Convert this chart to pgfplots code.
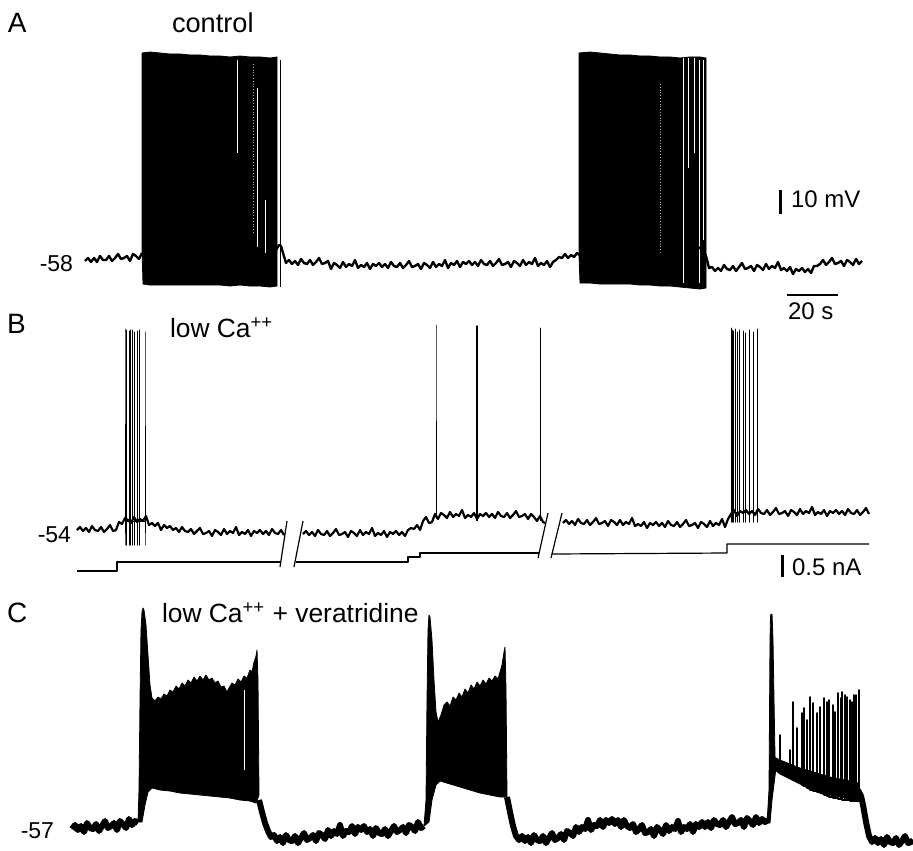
\documentclass[border=0pt]{standalone}
\usepackage{pgfplots}
\pgfplotsset{compat=1.18}
\usepackage{fontspec}
\setmainfont{Liberation Sans}

% coordinates are in picture units: x to the right, y downwards (0..913 x 0..850)
\newcommand{\lab}[1]{\fontsize{14}{16}\selectfont #1}
\newcommand{\ttl}[1]{\fontsize{13.2}{16}\selectfont #1}
\newcommand{\vlt}[1]{\fontsize{11.5}{13}\selectfont #1}
\newcommand{\scl}[1]{\fontsize{12}{14}\selectfont #1}
\tikzset{txt/.style={inner sep=0pt, outer sep=0pt}}

\begin{document}
\begin{tikzpicture}
\begin{axis}[
    scale only axis, width=456.5pt, height=425pt,
    xmin=0, xmax=913, ymin=0, ymax=850, y dir=reverse,
    hide axis,
    every axis plot/.append style={line join=round},
]
%% ---------------- A: control ----------------
\addplot[black, line width=1.2pt] coordinates {
(85,261)(88,258)(91,262)(94,258)(97,262)(100,256)(103,260)(106,260)(109,256)(112,261)(115,258)(118,254)(121,259)(124,258)(127,256)(130,261)(133,254)(136,256)(139,259)(142,253)
};
\addplot[black, fill=black, line width=0.4pt] coordinates {
(142,250)(142,53)(150,52)(160,53)(170,54)(180,54)(190,55)(200,55)(210,56)(220,56)(230,57)(240,56)(250,57)(260,57)(270,58)(277,57)(277,286)(270,287)(260,286)(250,286)(240,285)(230,286)(220,285)(210,285)(200,285)(190,285)(180,285)(170,285)(160,285)(150,285)(143,284)
} -- cycle;
\addplot[white, line width=0.5pt] coordinates {(237,60)(237,153)};
\addplot[white!70!black, line width=0.4pt, densely dotted] coordinates {(253,64)(253,233)};
\addplot[white, line width=0.5pt] coordinates {(257,88)(257,247)};
\addplot[white, line width=0.5pt] coordinates {(265,200)(265,253)};
\addplot[black, line width=0.5pt] coordinates {(280,60)(280,287)};
\addplot[black, line width=1.2pt] coordinates {
(276,250)(279,245)(281,246)(283,253)
(286,263)(289,260)(292,264)(295,261)(298,265)(301,259)(304,263)(307,264)(310,260)(313,265)(316,262)(319,258)(322,264)(325,263)(328,261)
(331,269)(334,263)(337,265)(340,268)(343,262)(346,267)(349,264)(352,266)(355,260)(358,268)(361,265)(364,267)(367,263)(370,269)(373,264)
(376,266)(379,263)(382,267)(385,264)(388,268)(391,262)(394,266)(397,267)(400,263)(403,268)(406,265)(409,261)(412,267)(415,266)(418,264)
(421,269)(424,263)(427,265)(430,268)(433,262)(436,267)(439,264)(442,266)(445,260)(448,268)(451,263)(454,265)(457,261)(460,267)(463,262)
(466,264)(469,261)(472,265)(475,262)(478,266)(481,260)(484,264)(487,265)(490,261)(493,266)(496,263)(499,259)(502,265)(505,264)(508,262)
(511,267)(514,261)(517,263)(520,266)(523,260)(526,265)(529,262)(532,264)(535,258)(538,266)(541,263)(544,265)(547,261)(550,267)(553,262)
(556,260)(559,257)(562,258)(565,254)(568,258)(571,255)(574,257)(577,253)(579,255)
};
\addplot[black, fill=black, line width=0.4pt] coordinates {
(579,255)(579,53)(590,52)(600,53)(610,54)(620,55)(630,55)(640,56)(650,56)(660,57)(670,57)(680,58)(690,57)(700,57)(706,58)(706,288)(700,289)(690,288)(680,287)(670,286)(660,286)(650,285)(640,285)(630,284)(620,284)(610,284)(600,284)(590,283)(580,283)
} -- cycle;
\addplot[white!70!black, line width=0.4pt, densely dotted] coordinates {(660,84)(660,253)};
\addplot[white, line width=0.5pt] coordinates {(683,58)(683,283)};
\addplot[white, line width=0.5pt] coordinates {(688,58)(688,168)};
\addplot[white, line width=0.5pt] coordinates {(694,58)(694,153)};
\addplot[white, line width=0.5pt] coordinates {(699,60)(699,283)};
\addplot[white, line width=0.5pt] coordinates {(703,60)(703,240)};
\addplot[black, line width=1.2pt] coordinates {
(690,250)(697,247)(703,249)(706,256)
(709,268)(712,267)(715,271)(718,268)(721,271)(724,265)(727,269)(730,270)(733,266)(736,271)(739,267)(742,263)(745,269)(748,268)(751,266)
(754,271)(757,265)(760,267)(763,270)(766,264)(769,269)(772,266)(775,268)(778,262)(781,270)(784,268)(787,271)(790,267)(793,274)(796,269)
(799,271)(802,268)(805,272)(808,269)(811,273)(814,266)(817,266)(820,264)(823,260)(826,265)(829,262)(832,258)(835,264)(838,263)(841,261)
(844,266)(847,260)(850,262)(853,265)(856,259)(859,264)(862,261)
};
% scale bars
\addplot[black, line width=1.5pt] coordinates {(780,190)(780,214)};
\addplot[black, line width=1.3pt] coordinates {(787,295)(838,295)};

%% ---------------- B: low Ca ----------------
\addplot[black, line width=1.1pt] coordinates {
(77,530)(80,527)(83,531)(86,528)(89,532)(92,526)(95,530)(98,531)(101,527)(104,532)(107,529)(110,525)(113,531)(116,530)
(119,522)(122,524)(125,518)(128,520)(131,523)(134,517)(137,522)(140,519)(143,521)(146,516)(149,525)(152,523)(155,526)(158,523)(161,530)
(164,525)(167,528)(170,526)(173,530)(176,528)(179,532)(182,527)(185,531)(188,532)(191,529)(194,534)(197,531)(200,528)(203,534)(206,533)
(209,531)(212,536)(215,530)(218,532)(221,535)(224,529)(227,534)(230,531)(233,533)(236,527)(239,535)(242,532)(245,534)(248,530)(251,536)
(254,531)(257,533)(260,530)(263,534)(266,531)(269,535)(272,529)(275,533)(278,534)(281,530)(284,535)
};
\addplot[black, line width=0.5pt] coordinates {
(125,521)(125,329)(125,545)(125,521)
(126.7,521)(126.7,330)(126.7,545)(126.7,521)
(129.3,521)(129.3,331)(129.3,545)(129.3,521)
(130.7,521)(130.7,330)(130.7,545)(130.7,521)
(132.7,521)(132.7,330)(132.7,545)(132.7,521)
(134.7,521)(134.7,332)(134.7,545)(134.7,521)
(137.3,521)(137.3,331)(137.3,545)(137.3,521)
(139.3,521)(139.3,330)(139.3,545)(139.3,521)
(145,521)(145,332)(145,545)(145,521)
};
\addplot[black, line width=1.1pt] coordinates {
(303,534)(306,531)(309,535)(312,532)(315,536)(318,530)(321,534)(324,535)(327,531)(330,536)(333,533)(336,529)(339,535)(342,534)(345,532)
(348,537)(351,531)(354,533)(357,536)(360,530)(363,535)(366,532)(369,534)(372,528)(375,536)(378,533)(381,535)(384,531)(387,537)(390,532)
(393,534)(396,531)(399,535)(402,532)(405,536)(408,530)(411,528)(414,529)(417,525)(420,530)(423,521)(426,517)(429,523)(432,522)(435,514)
(438,519)(441,513)(444,515)(447,518)(450,512)(453,517)(456,514)(459,516)(462,510)(465,518)(468,515)(471,517)(474,513)(477,519)(480,514)
(483,516)(486,513)(489,517)(492,514)(495,518)(498,512)(501,516)(504,517)(507,513)(510,518)(513,515)(516,511)(519,517)(522,516)(525,514)
(528,519)(531,514)(534,517)(537,521)(540,516)(543,522)(545,523)
};
\addplot[black, line width=0.5pt] coordinates {(436,516)(436,325)(436,519)};
\addplot[black, line width=0.9pt] coordinates {(477,515)(477,326)(477,521)};
\addplot[black, line width=0.5pt] coordinates {(540,518)(540,328)(540,521)};
\addplot[black, line width=1.1pt] coordinates {
(563,523)(566,520)(569,524)(572,521)(575,525)(578,519)(581,523)(584,524)(587,520)(590,525)(593,522)(596,518)(599,524)(602,523)(605,521)
(608,526)(611,520)(614,522)(617,525)(620,520)(623,525)(626,522)(629,524)(632,518)(635,526)(638,524)(641,526)(644,522)(647,528)(650,523)
(653,525)(656,522)(659,526)(662,523)(665,527)(668,521)(671,525)(674,526)(677,522)(680,527)(683,524)(686,520)(689,526)(692,525)(695,523)
(698,528)(701,522)(704,524)(707,527)(710,521)(713,526)(716,523)(719,525)(722,519)(725,527)(728,519)(731,514)(734,510)(737,516)(740,511)
(743,513)(746,510)(749,514)(752,511)(755,515)(758,509)(761,513)(764,514)(767,510)(770,515)(773,512)(776,508)(779,514)(782,513)(785,511)
(788,516)(791,510)(794,512)(797,515)(800,509)(803,514)(806,511)(809,513)(812,507)(815,515)(818,512)(821,514)(824,510)(827,516)(830,511)
(833,513)(836,510)(839,514)(842,511)(845,515)(848,509)(851,513)(854,514)(857,510)(860,515)(863,512)(866,508)(869,514)
};
\addplot[black, line width=0.5pt] coordinates {
(731,512)(731,328)(731,522)(731,512)
(732,512)(732,330)(732,522)(732,512)
(733.5,512)(733.5,331)(733.5,522)(733.5,512)
(735,512)(735,329)(735,522)(735,512)
(737,512)(737,332)(737,522)(737,512)
(739.5,512)(739.5,330)(739.5,522)(739.5,512)
(743,512)(743,331)(743,522)(743,512)
(745.5,512)(745.5,333)(745.5,522)(745.5,512)
(749,512)(749,330)(749,522)(749,512)
(753,512)(753,332)(753,522)(753,512)
(757,512)(757,329)(757,522)(757,512)
};
% injected current
\addplot[black, line width=0.6pt] coordinates {(77,571)(117,571)(117,562)(281,562)};
\addplot[black, line width=0.6pt] coordinates {(296,562)(408,562)(408,557)(420,557)(420,553)(539,553)};
\addplot[black, line width=0.6pt] coordinates {(552,554)(727,553)(727,544)(869,544)};
% axis breaks
\addplot[black, line width=0.6pt] coordinates {(287,521)(280,567)};
\addplot[black, line width=0.6pt] coordinates {(303,521)(294,567)};
\addplot[black, line width=0.6pt] coordinates {(548,513)(538,558)};
\addplot[black, line width=0.6pt] coordinates {(562,513)(551,558)};
\addplot[black, line width=1.5pt] coordinates {(782,555)(782,577)};

%% ---------------- C: low Ca + veratridine ----------------
\addplot[black, line width=3pt] coordinates {
(72,829)(75,825)(78,830)(81,826)(84,832)(87,823)(90,828)(93,829)(96,824)(99,831)(102,826)(105,821)(108,828)(111,826)(114,823)(117,830)
(120,821)(123,824)(126,828)(129,819)(132,825)(135,821)(138,823)
};
\addplot[black, fill=black, line width=0.4pt] coordinates {
(138,822)(139,790)(140,700)(141,630)(142,612)(143,608)(144,610)(146,625)(148,655)(150,685)(152,698)(155,701)(158,697)(161,699)(164,694)(167,696)(170,690)(173,692)(176,686)(179,689)(182,683)(185,686)(188,680)(191,683)(194,677)(197,681)(200,676)(203,680)(206,675)(209,680)(212,678)(215,683)(218,681)(221,687)(224,686)(227,692)(229,688)(232,683)(235,685)(238,679)(241,682)(244,676)(247,678)(250,670)(252,672)(254,662)(256,656)(257,650)(258,680)(259,795)(256,803)(250,801)(240,800)(230,798)(220,797)(210,796)(200,795)(190,794)(180,793)(170,791)(160,790)(152,788)(148,792)(145,805)(142,822)
} -- cycle;
\addplot[white, line width=0.4pt] coordinates {(244,690)(244,770)};
\addplot[black, line width=3pt] coordinates {
(259,800)(262,812)(265,823)(268,831)
(271,837)(274,835)(277,841)(280,837)(283,843)(286,835)(289,840)(292,841)(295,836)(298,843)(301,838)(304,833)(307,840)(310,838)(313,835)
(316,841)(319,833)(322,835)(325,839)(328,830)(331,836)(334,831)(337,834)(340,825)(343,836)(346,831)(349,832)(352,826)(355,834)(358,827)
(361,830)(364,826)(367,832)(370,829)(373,836)(376,828)(379,833)(382,834)(385,829)(388,836)(391,831)(394,826)(397,832)(400,830)(403,827)
(406,833)(409,825)(412,827)(415,831)(418,822)(421,828)(424,826)
};
\addplot[black, fill=black, line width=0.4pt] coordinates {
(424,826)(426,800)(427,700)(428,630)(429,615)(430,617)(432,640)(434,680)(436,712)(438,722)(441,715)(444,705)(447,702)(450,706)(453,697)(456,700)(459,693)(462,697)(465,689)(468,693)(471,685)(474,689)(477,682)(480,686)(483,680)(486,684)(489,678)(492,681)(495,676)(498,679)(500,672)(502,665)(504,652)(505,647)(506,690)(507,797)(500,797)(490,795)(480,793)(470,790)(460,787)(450,784)(440,781)(436,785)(432,800)(429,822)
} -- cycle;
\addplot[black, line width=3pt] coordinates {
(507,797)(510,812)(513,826)(516,836)
(519,840)(522,836)(525,841)(528,837)(531,843)(534,835)(537,840)(540,841)(543,836)(546,843)(549,838)(552,833)(555,840)(558,838)(561,834)
(564,840)(567,831)(570,833)(573,836)(576,827)(579,832)(582,827)(585,829)(588,820)(591,830)(594,825)(597,826)(600,820)(603,827)(606,820)
(609,823)(612,819)(615,824)(618,820)(621,827)(624,820)(627,826)(630,828)(633,824)(636,832)(639,829)(642,825)(645,833)(648,832)(651,829)
(654,836)(657,827)(660,830)(663,834)(666,825)(669,831)(672,827)(675,829)(678,821)(681,832)(684,827)(687,829)(690,824)(693,832)(696,824)
(699,827)(702,822)(705,827)(708,822)(711,828)(714,820)(717,824)(720,825)(723,820)(726,827)(729,822)(732,817)(735,824)(738,823)(741,820)
(744,827)(747,818)(750,821)(753,825)(756,817)(759,823)(762,819)(765,822)(768,820)
};
\addplot[black, fill=black, line width=0.4pt] coordinates {
(767,823)(769,790)(770,640)(770.5,615)(772,614)(773,640)(774,700)(775,756)(776,768)(772,800)(770,823)
} -- cycle;
\addplot[black, fill=black, line width=0.4pt] coordinates {
(774,757)(780,760)(790,764)(800,768)(810,771)(820,774)(830,777)(840,779)(850,781)(858,783)(860,790)(858,800)(850,799)(840,797)(830,795)(820,792)(810,788)(800,784)(790,779)(780,774)(775,770)
} -- cycle;
\addplot[black, line width=0.8pt] coordinates {
(780,770)(780,735)(780,770)(790,775)(790,750)(790,778)(793,778)(793,702)(793,780)(797,780)(797,728)(797,782)
(802,783)(802,713)(802,785)(804,786)(804,708)(804,786)(807,787)(807,720)(807,788)(810,789)(810,697)(810,790)
(813,790)(813,703)(813,791)(817,791)(817,713)(817,792)(820,792)(820,707)(820,793)(824,794)(824,698)(824,795)
(827,795)(827,702)(827,796)(829,796)(829,700)(829,797)(833,797)(833,705)(833,798)(835,798)(835,712)(835,798)
(838,798)(838,693)(838,799)(841,799)(841,698)(841,799)(842,799)(842,692)(842,800)(845,800)(845,695)(845,800)
(847,800)(847,697)(847,800)(850,800)(850,700)(850,801)(852,801)(852,702)(852,801)(854,801)(854,695)(854,801)
(856,801)(856,695)(856,801)(859,801)(859,690)(859,800)
};
\addplot[black, line width=3pt] coordinates {
(858,790)(861,796)(863,805)(866,822)(869,836)
(872,842)(875,838)(878,843)(881,839)(884,845)(887,837)(890,842)(893,843)(896,838)(899,845)(902,841)(905,836)(908,843)(911,842)(913,840)
};

%% ---------------- text ----------------
\node[txt, anchor=base west] at (axis cs:8,33) {\lab{A}};
\node[txt, anchor=base west] at (axis cs:172,33) {\fontsize{13.6}{16}\selectfont control};
\node[txt, anchor=base east] at (axis cs:73,271) {\vlt{-58}};
\node[txt, anchor=base west] at (axis cs:791,207) {\scl{10 mV}};
\node[txt, anchor=base west] at (axis cs:788,319) {\scl{20 s}};
\node[txt, anchor=base west] at (axis cs:7,333) {\lab{B}};
\node[txt, anchor=base west] at (axis cs:170,337) {\ttl{low Ca\textsuperscript{++}}};
\node[txt, anchor=base east] at (axis cs:71,542) {\vlt{-54}};
\node[txt, anchor=base west] at (axis cs:792,575) {\scl{0.5 nA}};
\node[txt, anchor=base west] at (axis cs:7,622) {\lab{C}};
\node[txt, anchor=base west] at (axis cs:162,622) {\ttl{low Ca\textsuperscript{++} + veratridine}};
\node[txt, anchor=base east] at (axis cs:54,838) {\vlt{-57}};
\end{axis}
% keep the page exactly the size of the (hidden) axis box
\path (current axis.south west) rectangle (current axis.north east);
\end{tikzpicture}
\end{document}
